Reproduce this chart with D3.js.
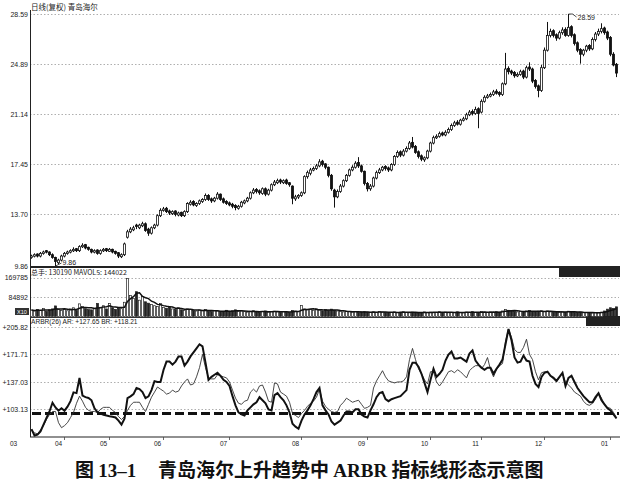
<!DOCTYPE html>
<html><head><meta charset="utf-8">
<script src="https://cdn.jsdelivr.net/npm/d3@7"></script>
<style>
body{margin:0;background:#fff}
svg{display:block}
text{font-family:"Liberation Sans",Arial,sans-serif;fill:#222}
</style>
</head><body>
<svg id="c" width="620" height="489"></svg>
<script>
// ---------- DATA ----------
const chartTitle = "日线(复权) 青岛海尔";
const volTitle = "总手: 130190 MAVOL5: 144022";
const arbrTitle = "ARBR(26) AR: +127.65 BR: +118.21";
const figTitleA = "图 13–1";
const figTitleB = ["青岛海尔上升趋势中 ", "ARBR", " 指标线形态示意图"];

const opens = [
10.50,10.60,10.75,10.60,10.80,11.00,10.90,10.70,10.50,10.10,
10.30,10.60,10.80,10.90,11.00,11.15,11.00,11.30,11.45,11.25,
11.10,10.90,11.05,10.80,11.00,11.15,10.95,11.10,10.95,10.85,
10.55,10.70,12.00,12.40,12.55,12.90,12.70,12.85,13.00,12.60,
12.30,12.70,12.90,13.60,14.00,14.15,13.95,13.75,13.95,13.65,
13.85,13.60,13.90,14.45,14.65,14.35,14.50,14.65,14.80,15.10,
14.85,14.70,14.90,15.20,14.85,14.65,14.55,14.45,14.35,14.15,
14.30,14.55,14.70,14.90,15.30,15.55,15.45,15.25,15.60,15.20,
15.50,15.90,16.05,16.25,16.05,16.25,16.05,15.80,14.85,15.00,
15.10,15.30,16.50,16.75,17.05,17.10,17.30,17.65,17.45,17.20,
16.60,15.50,15.00,15.40,15.80,16.20,16.60,17.00,17.20,17.55,
17.30,16.90,16.00,15.60,15.80,16.40,16.80,17.00,17.25,17.15,
17.00,17.40,18.00,18.35,18.10,18.40,18.60,19.05,18.75,18.35,
18.05,17.75,17.90,18.40,19.00,19.40,19.50,19.75,19.60,19.80,
20.00,20.30,20.55,20.40,20.70,20.80,21.10,21.35,21.20,21.55,
21.30,22.10,22.40,22.50,22.60,22.85,22.75,22.60,23.40,24.55,
24.35,24.25,24.00,24.10,24.35,23.90,24.65,24.50,23.65,23.25,
22.90,24.60,25.90,27.00,27.35,27.05,26.80,27.20,27.45,27.00,
27.65,27.05,26.45,25.95,25.60,25.90,26.25,26.00,26.70,27.10,
27.30,27.55,27.25,26.85,25.60,24.85];

const highs = [
10.70,10.80,10.80,10.90,11.00,11.05,10.95,10.80,10.55,10.40,
10.70,10.90,11.00,11.10,11.25,11.20,11.40,11.55,11.50,11.30,
11.15,11.10,11.10,11.10,11.20,11.20,11.20,11.15,11.00,10.90,
10.80,11.60,12.55,12.75,12.85,13.00,13.00,13.15,13.10,12.70,
12.80,13.00,13.70,14.15,14.25,14.25,14.05,14.00,14.00,13.90,
13.90,14.00,14.60,14.75,14.75,14.60,14.80,14.90,15.25,15.20,
14.95,15.00,15.35,15.25,14.95,14.75,14.65,14.55,14.45,14.40,
14.70,14.80,15.00,15.40,15.65,15.65,15.55,15.70,15.70,15.60,
16.00,16.25,16.35,16.35,16.30,16.35,16.10,15.85,15.15,15.20,
15.40,16.60,16.95,17.15,17.25,17.45,17.80,17.75,17.50,17.25,
16.70,15.60,15.55,15.95,16.30,16.70,17.10,17.35,17.65,17.95,
17.40,16.95,16.10,15.95,16.50,16.95,17.15,17.30,17.35,17.25,
17.50,18.10,18.45,18.45,18.55,18.75,19.15,19.45,18.85,18.45,
18.15,18.00,18.50,19.10,19.55,19.65,19.85,19.85,19.95,20.15,
20.45,20.65,20.70,20.80,20.95,21.25,21.45,21.50,21.70,21.65,
22.25,22.55,22.65,22.75,22.95,23.00,22.85,23.50,25.70,24.70,
24.45,24.35,24.25,24.45,24.45,24.75,25.00,24.60,23.75,23.35,
24.80,26.10,28.00,27.50,27.45,27.15,27.35,27.60,27.60,28.59,
27.75,27.15,26.55,26.05,26.00,26.30,26.35,26.85,27.25,27.50,
27.90,27.65,27.35,26.95,25.75,24.95];

const lows = [
10.40,10.50,10.50,10.50,10.70,10.80,10.60,10.40,9.86,10.00,
10.20,10.50,10.70,10.80,10.90,10.90,10.90,11.20,11.10,11.00,
10.80,10.80,10.70,10.70,10.90,10.90,10.90,10.80,10.70,10.45,
10.45,10.60,11.90,12.30,12.45,12.60,12.60,12.75,12.40,12.10,
12.20,12.60,12.80,13.50,13.90,13.80,13.65,13.65,13.55,13.55,
13.50,13.50,13.80,14.35,14.30,14.25,14.40,14.55,14.70,14.70,
14.55,14.60,14.80,14.70,14.50,14.40,14.30,14.15,14.00,14.05,
14.20,14.45,14.60,14.80,15.20,15.25,15.15,15.15,15.05,15.10,
15.40,15.80,15.95,15.95,15.95,15.90,15.75,14.45,14.70,14.85,
15.00,15.20,16.35,16.60,16.90,17.00,17.20,17.25,17.05,16.45,
15.45,14.20,14.90,15.30,15.70,16.10,16.50,16.90,17.10,17.15,
16.80,15.85,15.40,15.45,15.70,16.30,16.70,16.90,16.95,16.85,
16.90,17.30,17.90,17.95,18.00,18.30,18.50,18.60,18.20,17.85,
17.65,17.60,17.80,18.30,18.90,19.30,19.40,19.50,19.50,19.70,
19.90,20.20,20.30,20.30,20.60,20.70,21.00,21.05,21.10,20.10,
21.20,22.00,22.30,22.40,22.50,22.60,22.45,22.50,23.30,24.10,
24.05,23.85,23.90,24.00,23.75,23.80,24.35,23.45,23.05,22.40,
22.80,24.50,25.80,26.85,26.85,26.60,26.70,27.05,26.90,26.90,
26.85,26.25,25.75,24.90,25.45,25.75,25.85,25.90,26.55,26.95,
27.15,27.05,26.65,25.45,24.70,23.90];

const closes = [
10.60,10.70,10.60,10.80,10.90,10.90,10.70,10.50,10.20,10.30,
10.60,10.80,10.90,11.00,11.10,11.00,11.30,11.40,11.20,11.10,
10.90,11.00,10.80,11.00,11.10,11.00,11.10,10.90,10.80,10.60,
10.70,11.50,12.40,12.60,12.70,12.80,12.90,13.00,12.50,12.30,
12.70,12.90,13.60,14.00,14.10,13.90,13.80,13.90,13.70,13.80,
13.60,13.90,14.50,14.60,14.40,14.50,14.70,14.80,15.10,14.80,
14.70,14.90,15.20,14.80,14.60,14.50,14.40,14.30,14.20,14.30,
14.60,14.70,14.90,15.30,15.50,15.40,15.30,15.60,15.20,15.50,
15.90,16.10,16.20,16.10,16.20,16.00,15.90,14.90,15.00,15.10,
15.30,16.50,16.80,17.00,17.10,17.30,17.60,17.40,17.20,16.60,
15.60,15.00,15.40,15.80,16.20,16.60,17.00,17.20,17.50,17.30,
16.90,16.00,15.60,15.80,16.40,16.80,17.00,17.20,17.10,17.00,
17.40,18.00,18.30,18.10,18.40,18.60,19.00,18.70,18.30,18.00,
17.80,17.90,18.40,19.00,19.40,19.50,19.70,19.60,19.80,20.00,
20.30,20.50,20.40,20.70,20.80,21.10,21.30,21.20,21.50,21.20,
22.10,22.40,22.50,22.60,22.80,22.70,22.60,23.40,24.50,24.30,
24.20,24.00,24.10,24.30,23.90,24.60,24.50,23.60,23.20,22.90,
24.60,25.90,27.00,27.30,27.00,26.80,27.20,27.40,27.00,27.60,
27.00,26.40,25.90,25.60,25.90,26.20,26.00,26.70,27.10,27.30,
27.50,27.20,26.80,25.60,24.80,24.20];

const volumes = [
28000,24000,31000,26000,35000,23000,29000,33000,46000,31000,
26000,30000,25000,33000,38000,27000,55000,44000,34000,30000,
29000,36000,57000,40000,47000,33000,56000,38000,31000,36000,
34000,62000,166000,92000,78000,108000,71000,88000,64000,58000,
52000,47000,43000,56000,39000,36000,41000,33000,31000,38000,
29000,27000,33000,30000,26000,24000,28000,25000,31000,23000,
22000,26000,24000,21000,20000,27000,23000,25000,29000,22000,
24000,21000,19000,23000,25000,20000,18000,22000,24000,19000,
21000,23000,20000,18000,22000,19000,17000,26000,24000,21000,
48000,33000,29000,31000,27000,34000,28000,25000,30000,26000,
32000,27000,24000,22000,20000,23000,21000,19000,22000,18000,
20000,21000,19000,17000,20000,18000,22000,19000,17000,16000,
18000,20000,17000,19000,21000,18000,16000,19000,17000,15000,
18000,20000,17000,19000,16000,18000,21000,17000,19000,16000,
18000,17000,20000,18000,16000,19000,17000,21000,18000,16000,
22000,19000,17000,20000,18000,21000,19000,24000,31000,27000,
25000,22000,20000,23000,21000,24000,26000,22000,20000,23000,
25000,21000,24000,20000,19000,22000,18000,21000,19000,23000,
20000,18000,17000,19000,16000,18000,17000,15000,18000,16000,
19000,24000,32000,38000,35000,42000];

const arValues = [
78,70,71,75,83.5,92,100,111,105,101,
104,101,106,113,124,123,142,120,118,117,
114,104,99,97.5,96,95,94,93.5,92.5,88.6,
83.5,91,116.7,119,121.8,129.4,128,124.3,116.7,119,
126.8,138,137,137,152,162.5,162.5,158.7,162.5,169,
169,157.5,162.5,169,174,179,184.2,181.6,161.2,139.6,
143.4,146,148.5,144.7,139.6,137,132,119.2,107.7,98.8,
96.3,95,101.4,105.2,109,111.6,117.9,114.1,110.3,102.7,
101.4,120.5,123,118,114.1,107.7,98.8,84.8,81,78.4,
88.6,96.3,101.4,107.7,115.4,124.3,129.4,107.7,101.4,96.3,
87.4,83.5,86,88.6,95,100,100,98.8,102.7,102.7,
96.3,93.7,92.4,101.4,109,118,123,124.3,115.4,112.9,
115.4,116.7,118,119.2,123,126.8,152.3,161.2,161.2,156.1,
147.2,135.8,124.3,139.6,153.6,143.4,147.2,152.3,163.8,171.4,
175.2,166.3,166.3,167.6,165,162.5,172.7,176.5,163.8,158.7,
154.9,152.3,154.9,154.9,147.2,153.6,158.7,165,184.2,203.3,
189.3,167.6,161.2,162.5,170.1,163.8,162.5,144.7,134.5,130.7,
143.4,148.5,149.8,144.7,142.1,138.3,143.4,148.5,132,142.1,
144.7,137,129.4,124.3,119.2,115.4,111.6,111.6,118,123,
114.1,109,103.9,101.4,96.3,91.2];

const brValues = [
75.9,73.3,72,77,82.3,90,96.3,100,100,86,
79.7,82.3,86,92.4,98.8,110.3,119.2,112.9,105.2,101.4,
100,100,98.8,102.7,105.2,105.2,105.2,101.4,98.8,93.7,
90,93.7,101.4,107.7,111.6,111.6,111.6,105.2,100,109,
118,124.3,130.7,128,125.5,121.8,123,126.8,124.3,125.5,
132,137,140.8,133.2,134.5,143.4,154.9,171.4,154.9,142.1,
140.8,140.8,146,144.7,143.4,142.1,137,126.8,116.7,110.3,
109,112.9,114.1,124.3,128,124.3,132,133.2,124.3,112.9,
111.6,135.8,134.5,124.3,121.8,119.2,111.6,97.5,95,92.4,
97.5,101.4,106.5,110.3,112.9,118,128,112.9,106.5,102.7,
100,98.8,100,107.7,111.6,116.7,114.1,111.6,112.9,114.1,
109,103.9,105.2,107.7,129.4,138.3,144.7,151.1,143.4,138.3,
137,135.8,137,137,138.3,143.4,165,179,165,153.6,
147.2,139.6,134.5,149.8,149.8,137,132,137,143.4,149.8,
151.1,148.5,152.3,149.8,146,142.1,151.1,154.9,157.4,157.4,
153.6,158.7,167.6,152.3,143.4,152.3,157.4,160,188,203.3,
193,177.8,174,174,180.3,190.5,171.4,165,149.8,139.6,
148.5,149.8,149.8,144.7,140.8,137,143.4,147.2,137,133.2,
129.4,124.3,121.8,119.2,112.9,109,107.7,110.3,115.4,123,
116.7,109,105.2,103.9,98.8,92.4];

const priceTicks = [28.59, 24.89, 21.14, 17.45, 13.70, 9.86];
const volumeTicks = [169785, 84892];
const arbrTicks = [205.82, 171.71, 137.03, 103.13];
const arbrRefLevel = 97.5;
const monthLabels = ["03","04","05","06","07","08","09","10","11","12","01"];
const monthStartIdx = [-4, 11, 26, 44, 66, 90, 112, 133, 150, 171, 193];
const maPeriod = 5;

// ---------- CHART ----------
const n = closes.length;
[opens,highs,lows,volumes,arValues,brValues].forEach((a,k)=>{ if(a.length!==n) console.error("len mismatch", k, a.length, n); });

const svg = d3.select("#c");
const left = 30, right = 618;
const x = d3.scaleBand().domain(d3.range(n)).range([left, right]).paddingInner(0.28).paddingOuter(0.14);
const bw = x.bandwidth();
const xc = i => x(i) + bw/2;
const xi = d3.scaleLinear().domain([0, n-1]).range([xc(0), xc(n-1)]);

const yP = d3.scaleLinear().domain([9.86, 28.59]).range([266, 14]);
const yV = d3.scaleLinear().domain([0, 169785]).range([316.5, 277.5]);
const yA = d3.scaleLinear().domain([103.13, 205.82]).range([409, 327]);

const grid = svg.append("g").attr("stroke", "#9a9a9a").attr("stroke-width", 0.8).attr("stroke-dasharray", "1.5,2");
function gridLines(vals, sc){
  grid.selectAll(null).data(vals).join("line")
    .attr("x1", left).attr("x2", 619)
    .attr("y1", d => Math.round(sc(d))+0.5).attr("y2", d => Math.round(sc(d))+0.5);
}
gridLines(priceTicks, yP);
gridLines(volumeTicks, yV);
gridLines(arbrTicks, yA);

function leftAxis(sc, vals, fmt){
  const g = svg.append("g").attr("transform", `translate(${left},0)`)
    .call(d3.axisLeft(sc).tickValues(vals).tickFormat(fmt).tickSize(0).tickPadding(2));
  g.select(".domain").remove();
  g.selectAll("text").attr("font-size", 7).attr("fill", "#222")
    .style("font-family", '"Liberation Sans",Arial,sans-serif');
  return g;
}
leftAxis(yP, priceTicks, d3.format(".2f"));
leftAxis(yV, volumeTicks, d3.format("d"));
leftAxis(yA, arbrTicks, d => "+" + d3.format(".2f")(d));

// frame lines
svg.append("line").attr("x1", left+0.5).attr("x2", left+0.5).attr("y1", 10).attr("y2", 437).attr("stroke", "#222").attr("stroke-width", 1);
svg.append("line").attr("x1", left).attr("x2", 620).attr("y1", 267).attr("y2", 267).attr("stroke", "#222").attr("stroke-width", 2);
svg.append("line").attr("x1", left).attr("x2", 620).attr("y1", 317.5).attr("y2", 317.5).attr("stroke", "#333").attr("stroke-width", 1);
svg.append("line").attr("x1", left).attr("x2", 620).attr("y1", 437).attr("y2", 437).attr("stroke", "#222").attr("stroke-width", 1.2);

// titles
svg.append("text").attr("x", 31).attr("y", 10).attr("font-size", 7.5).text(chartTitle)
  .style("font-family", '"Noto Sans CJK SC",sans-serif');
svg.append("text").attr("x", 31).attr("y", 274.5).attr("font-size", 7).text(volTitle)
  .style("font-family", '"Noto Sans CJK SC","Liberation Sans",sans-serif');
svg.append("text").attr("x", 31).attr("y", 323.5).attr("font-size", 6.6).text(arbrTitle);

// dark boxes
svg.append("rect").attr("x", 559).attr("y", 267).attr("width", 61).attr("height", 10).attr("fill", "#222");
svg.append("rect").attr("x", 586).attr("y", 316).attr("width", 34).attr("height", 10).attr("fill", "#222");
svg.append("rect").attr("x", 15).attr("y", 308).attr("width", 14).attr("height", 7).attr("fill", "#333");
svg.append("text").attr("x", 22).attr("y", 313.8).attr("font-size", 5.5).attr("text-anchor", "middle").style("fill", "#fff").text("X10");

// candles
const cg = svg.append("g");
cg.selectAll("line").data(d3.range(n)).join("line")
  .attr("x1", i => xc(i)).attr("x2", i => xc(i))
  .attr("y1", i => yP(highs[i])).attr("y2", i => yP(lows[i]))
  .attr("stroke", "#111").attr("stroke-width", 1);
cg.selectAll("rect").data(d3.range(n)).join("rect")
  .attr("x", i => x(i)).attr("width", bw)
  .attr("y", i => yP(Math.max(opens[i], closes[i])))
  .attr("height", i => Math.max(1.5, Math.abs(yP(opens[i]) - yP(closes[i]))))
  .attr("fill", i => closes[i] >= opens[i] ? "#fff" : "#111")
  .attr("stroke", "#111").attr("stroke-width", 0.8);

// max / min markers
const iMax = d3.maxIndex(highs), iMin = d3.minIndex(lows);
const pxM = xc(iMax), pyM = yP(highs[iMax]);
svg.append("path").attr("d", `M${pxM},${pyM}H${pxM+4}L${pxM+8},${pyM+3}`).attr("fill", "none").attr("stroke", "#222").attr("stroke-width", 0.8);
svg.append("text").attr("x", pxM+9).attr("y", pyM+6).attr("font-size", 7).text(d3.format(".2f")(highs[iMax]));
const pxm = xc(iMin), pym = yP(lows[iMin]);
svg.append("path").attr("d", `M${pxm},${pym}L${pxm+6},${pym-3}`).attr("fill", "none").attr("stroke", "#222").attr("stroke-width", 0.8);
svg.append("text").attr("x", pxm+7).attr("y", pym-1).attr("font-size", 7).text(d3.format(".2f")(lows[iMin]));

// volume bars
const vg = svg.append("g");
vg.selectAll("rect").data(d3.range(n)).join("rect")
  .attr("x", i => x(i)).attr("width", bw)
  .attr("y", i => yV(volumes[i])).attr("height", i => yV(0) - yV(volumes[i]))
  .attr("fill", i => closes[i] >= opens[i] ? "#fff" : "#222")
  .attr("stroke", "#222").attr("stroke-width", 0.7);
const mavol = d3.range(n).map(i => d3.mean(volumes.slice(Math.max(0, i-maPeriod+1), i+1)));
svg.append("path").datum(mavol)
  .attr("d", d3.line().x((d,i) => xc(i)).y(d => yV(d)))
  .attr("fill", "none").attr("stroke", "#111").attr("stroke-width", 1.5);

// ARBR
svg.append("clipPath").attr("id", "ac").append("rect").attr("x", left).attr("y", 320).attr("width", 590).attr("height", 117);
const ag = svg.append("g").attr("clip-path", "url(#ac)");
ag.append("line").attr("x1", left+2).attr("x2", 619)
  .attr("y1", yA(arbrRefLevel)).attr("y2", yA(arbrRefLevel))
  .attr("stroke", "#111").attr("stroke-width", 3).attr("stroke-dasharray", "9,4");
ag.append("path").datum(brValues)
  .attr("d", d3.line().x((d,i) => xc(i)).y(d => yA(d)))
  .attr("fill", "none").attr("stroke", "#333").attr("stroke-width", 0.9);
ag.append("path").datum(arValues)
  .attr("d", d3.line().x((d,i) => xc(i)).y(d => yA(d)))
  .attr("fill", "none").attr("stroke", "#111").attr("stroke-width", 2);

// month axis
const mg = svg.append("g");
monthLabels.forEach((m, k) => {
  const tx = xi(monthStartIdx[k]);
  if (tx > left) mg.append("line").attr("x1", tx).attr("x2", tx).attr("y1", 437).attr("y2", 440).attr("stroke", "#444").attr("stroke-width", 0.8);
  mg.append("text").attr("x", tx - 6).attr("y", 446).attr("font-size", 6.5).attr("text-anchor", "middle").text(m);
});

// figure caption
const cap = svg.append("text").attr("y", 477).attr("font-size", 19).attr("font-weight", "bold")
  .style("font-family", '"Noto Sans CJK SC",sans-serif').style("fill", "#111");
cap.append("tspan").attr("x", 75).text("图 ");
cap.append("tspan").style("font-family", '"Liberation Serif",serif').text("13–1");
const cap2 = svg.append("text").attr("x", 158).attr("y", 477).attr("font-size", 19).attr("font-weight", "bold")
  .style("font-family", '"Noto Sans CJK SC",sans-serif').style("fill", "#111");
cap2.append("tspan").text(figTitleB[0]);
cap2.append("tspan").style("font-family", '"Liberation Serif",serif').text(figTitleB[1]);
cap2.append("tspan").text(figTitleB[2]);
</script>
</body></html>
